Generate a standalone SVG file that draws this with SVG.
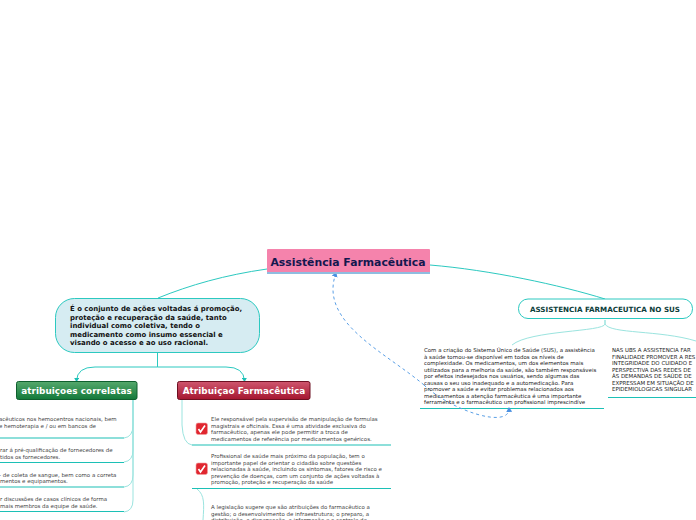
<svg xmlns="http://www.w3.org/2000/svg" width="696" height="520" viewBox="0 0 696 520">
<style>
text{font-family:"DejaVu Sans",Verdana,sans-serif}
.c{fill:none;stroke:#2cc9c0;stroke-width:1}
.l{fill:none;stroke:#9be4df;stroke-width:1}
.u{fill:none;stroke:#1cc0b6;stroke-width:1.2}
.d{fill:none;stroke:#5a9fe6;stroke-width:1;stroke-dasharray:3 3}
.s{font-size:5.45px;fill:#444}
.k{font-size:5.45px;fill:#222}
.b{font-size:6.95px;font-weight:bold;fill:#111}
.h{font-size:8.85px;font-weight:bold;fill:#fff;text-anchor:middle;letter-spacing:.05px}
.x{fill:#e0262f;stroke:#f3a0a0;stroke-width:.6}
.t{fill:none;stroke:#fff;stroke-width:1.6}
</style>
<defs>
<marker id="a" markerWidth="5" markerHeight="5" refX="3" refY="2.5" orient="auto"><path d="M0 0L4 2.5L0 5Z" fill="#1cc0b6"/></marker>
<marker id="e" markerWidth="6" markerHeight="6" refX="4" refY="3" orient="auto"><path d="M0 0L5 3L0 6Z" fill="#4a90e2"/></marker>
<linearGradient id="g" x1="0" y1="0" x2="0" y2="1"><stop offset="0" stop-color="#55a86c"/><stop offset="1" stop-color="#13793a"/></linearGradient>
<linearGradient id="r" x1="0" y1="0" x2="0" y2="1"><stop offset="0" stop-color="#cf566e"/><stop offset="1" stop-color="#a5162f"/></linearGradient>
</defs>
<g id="connectors">
<path class="c" d="M267 269C225 275 190 285 158 298"/>
<path class="c" d="M430 265C490 270 560 285 605 299"/>
<path class="c" d="M157.500 353V367"/>
<path class="c" d="M157.500 367H95Q77 367 76.500 381" marker-end="url(#a)"/>
<path class="c" d="M157.500 367H226Q244 367 244.500 381" marker-end="url(#a)"/>
<path class="l" d="M133 400V425Q133 437 124 438"/>
<path class="l" d="M133 400V450Q133 461 124 462"/>
<path class="l" d="M133 400V475Q133 486 124 487"/>
<path class="l" d="M133 400V500Q133 511 124 512"/>
<path class="l" d="M182 400V425Q183 444 192 445"/>
<path class="l" d="M197 489C205 495 204 505 203 520"/>
<path class="l" d="M605 320V324C604 332 530 330 512 345"/>
<path class="l" d="M605 320V324C610 334 660 330 696 341"/>
<path class="u" d="M0 438H124"/>
<path class="u" d="M0 462.500H124"/>
<path class="u" d="M0 487H124"/>
<path class="u" d="M0 511.500H124"/>
<path class="u" d="M192 445H391"/>
<path class="u" d="M192 488.500H391"/>
<path class="u" d="M420 408.500H604"/>
<path class="u" d="M608 397.500H696"/>
<path class="d" d="M424 385C385 352 318 322 336 273" marker-end="url(#e)"/>
<path class="d" d="M424 385C450 410 510 430 509 408" marker-end="url(#e)"/>
</g>
<g id="root">
<rect x="267" y="249" width="163" height="24" rx="1" fill="#f583ac"/>
<rect x="267" y="272" width="163" height="2" fill="#8fbde0"/>
<text x="348" y="265.500" text-anchor="middle" font-size="10.850" font-weight="bold" fill="#14174f">Assistência Farmacêutica</text>
</g>
<g id="definicao">
<rect x="55.500" y="298.500" width="204" height="54" rx="19" fill="#d6ecf2" stroke="#2cc9c0"/>
<text class="b" x="70" y="311">É o conjunto de ações voltadas á promoção,</text>
<text class="b" x="70" y="320">proteção e recuperação da saúde, tanto</text>
<text class="b" x="70" y="328">individual como coletiva, tendo o</text>
<text class="b" x="70" y="337">medicamento como insumo essencial e</text>
<text class="b" x="70" y="345">visando o acesso e ao uso racional.</text>
</g>
<g id="correlatas">
<rect x="16.500" y="381.500" width="120.500" height="18" rx="2" fill="url(#g)" stroke="#0f5f2e"/>
<text class="h" x="76.500" y="394">atribuiçoes correlatas</text>
</g>
<g id="farmaceutica">
<rect x="177.500" y="381.500" width="132.500" height="18" rx="2" fill="url(#r)" stroke="#6d1022"/>
<text class="h" x="244" y="394">Atribuiçao Farmacêutica</text>
</g>
<g id="c1">
<text class="s" x="-1" y="421">acêuticos nos hemocentros nacionais, bem</text>
<text class="s" x="-1" y="428">e hemoterapia e / ou em bancos de</text>
</g>
<g id="c2">
<text class="s" x="0" y="452">rar á pré-qualificação de fornecedores de</text>
<text class="s" x="0" y="458.500">tidos os fornecedores.</text>
</g>
<g id="c3">
<text class="s" x="-1" y="476.500">- de coleta de sangue, bem como a correta</text>
<text class="s" x="0" y="483">mentos e equipamentos.</text>
</g>
<g id="c4">
<text class="s" x="0" y="501">r discussões de casos clínicos de forma</text>
<text class="s" x="0" y="507.500">mais membros da equipe de saúde.</text>
</g>
<g id="f1">
<rect class="x" x="196" y="423" width="11.500" height="11.500" rx="2"/>
<path class="t" d="M198.500 429L200.500 432L205 425.500"/>
<text class="s" x="211" y="421">Ele responsável pela supervisão de manipulação de formulas</text>
<text class="s" x="211" y="427.500">magistrais e oficinais. Essa é uma atividade exclusiva do</text>
<text class="s" x="211" y="434">farmacêutico, apenas ele pode permitir a troca de</text>
<text class="s" x="211" y="440.500">medicamentos de referência por medicamentos genéricos.</text>
</g>
<g id="f2">
<rect class="x" x="196" y="463" width="11.500" height="11.500" rx="2"/>
<path class="t" d="M198.500 469L200.500 472L205 465.500"/>
<text class="s" x="211" y="458">Profissional de saúde mais próximo da população, tem o</text>
<text class="s" x="211" y="464.500">importante papel de orientar o cidadão sobre questões</text>
<text class="s" x="211" y="471">relacionadas à saúde, incluindo os sintomas, fatores de risco e</text>
<text class="s" x="211" y="477.500">prevenção de doenças, com um conjunto de ações voltadas à</text>
<text class="s" x="211" y="484">promoção, proteção e recuperação da saúde</text>
</g>
<g id="f3">
<text class="s" x="211" y="509">A legislação sugere que são atribuições do farmacêutico a</text>
<text class="s" x="211" y="515.500">gestão; o desenvolvimento de infraestrutura; o preparo, a</text>
<text class="s" x="211" y="522">distribuição, a dispensação, a informação e o controle de</text>
</g>
<g id="sus">
<rect x="518.500" y="299" width="174" height="19.500" rx="9.500" fill="#fff" stroke="#2cc9c0"/>
<text x="605" y="311.500" text-anchor="middle" font-size="7.150" font-weight="bold" fill="#0c3d3a">ASSISTENCIA FARMACEUTICA NO SUS</text>
</g>
<g id="sus1">
<text class="k" x="424" y="352">Com a criação do Sistema Único de Saúde (SUS), a assistência</text>
<text class="k" x="424" y="358.500">à saúde tornou-se disponível em todos os níveis de</text>
<text class="k" x="424" y="365">complexidade. Os medicamentos, um dos elementos mais</text>
<text class="k" x="424" y="371.500">utilizados para a melhoria da saúde, são também responsáveis</text>
<text class="k" x="424" y="378">por efeitos indesejados nos usuários, sendo algumas das</text>
<text class="k" x="424" y="385">causas o seu uso inadequado e a automedicação. Para</text>
<text class="k" x="424" y="391">promover a saúde e evitar problemas relacionados aos</text>
<text class="k" x="424" y="397.500">medicamentos a atenção farmacêutica é uma importante</text>
<text class="k" x="424" y="404">ferramenta e o farmacêutico um profissional imprescindíve</text>
</g>
<g id="sus2">
<text class="k" x="612" y="352">NAS UBS A ASSISTENCIA FAR</text>
<text class="k" x="612" y="358.500">FINALIDADE PROMOVER A RES</text>
<text class="k" x="612" y="365">INTEGRIDADE DO CUIDADO E</text>
<text class="k" x="612" y="371.500">PERSPECTIVA DAS REDES DE</text>
<text class="k" x="612" y="378">ÀS DEMANDAS DE SAÚDE DE</text>
<text class="k" x="612" y="385">EXPRESSAM EM SITUAÇÃO DE</text>
<text class="k" x="612" y="391">EPIDEMIOLOGICAS SINGULAR</text>
</g>
</svg>
